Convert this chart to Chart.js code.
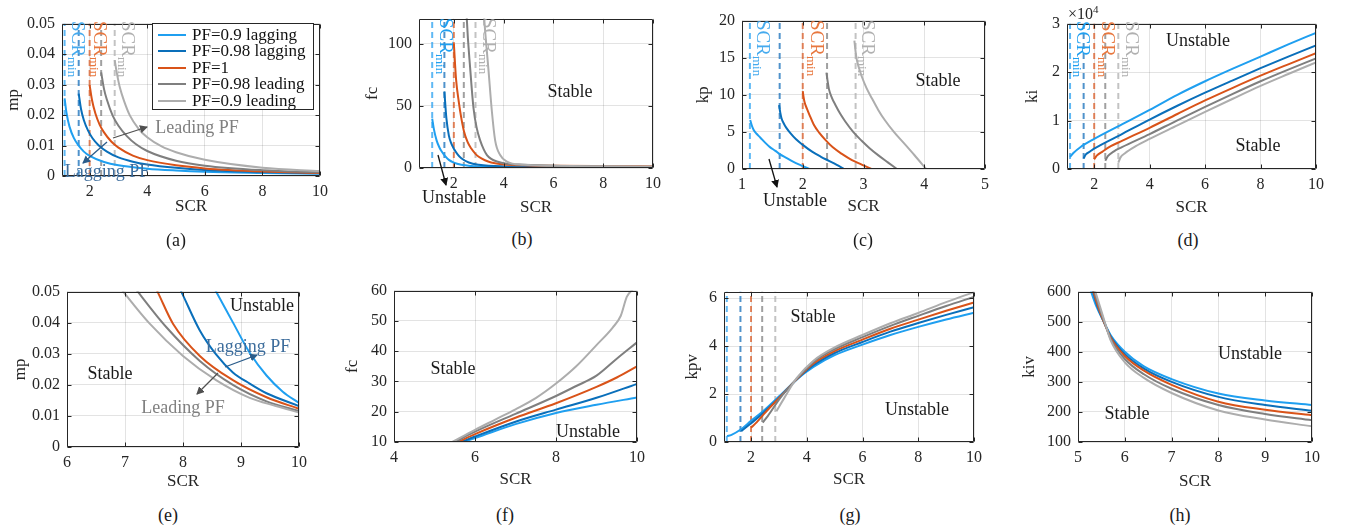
<!DOCTYPE html>
<html>
<head>
<meta charset="utf-8">
<title>SCR stability boundaries</title>
<script src="https://cdn.jsdelivr.net/npm/chart.js@4.4.1/dist/chart.umd.min.js"></script>
<style>
  body { margin: 0; background: #fff; }
  #fig { position: relative; width: 1347px; height: 531px; overflow: hidden; font-family: "Liberation Serif", "Times New Roman", serif; color: #1a1a1a; }
  .pane { position: absolute; }
  .txt { position: absolute; white-space: nowrap; transform: translate(-50%, -50%); font-size: 18px; line-height: 1; }
  .scr { position: absolute; white-space: nowrap; transform: rotate(90deg); transform-origin: 0 0; font-size: 19px; line-height: 19px; }
  .scr sub { font-size: 13px; vertical-align: -4px; }
  #legend { position: absolute; left: 152px; top: 23px; width: 160px; height: 85px; border: 1px solid #262626; background: #fff; }
  #legend .row { position: absolute; left: 0; height: 16px; width: 160px; }
  #legend .smp { position: absolute; left: 5px; top: 7px; width: 28px; height: 2px; }
  #legend .lt { position: absolute; left: 39px; top: -1px; font-size: 17px; line-height: 17px; white-space: nowrap; color: #111; }
  #arrows { position: absolute; left: 0; top: 0; }
</style>
</head>
<body>
<div id="fig">
  <div id="charts"></div>

  <!-- SCR_min labels -->
  <div class="scr" style="left:88px;top:21px;color:#45aaee">SCR<sub>min</sub></div>
  <div class="scr" style="left:110px;top:21px;color:#e8773e">SCR<sub>min</sub></div>
  <div class="scr" style="left:138px;top:21px;color:#b0b0b0">SCR<sub>min</sub></div>

  <div class="scr" style="left:456px;top:18px;color:#1f9ff0">SCR<sub>min</sub></div>
  <div class="scr" style="left:499px;top:18px;color:#b0b0b0">SCR<sub>min</sub></div>

  <div class="scr" style="left:773px;top:20px;color:#45aaee">SCR<sub>min</sub></div>
  <div class="scr" style="left:827px;top:20px;color:#e8773e">SCR<sub>min</sub></div>
  <div class="scr" style="left:878px;top:20px;color:#b0b0b0">SCR<sub>min</sub></div>

  <div class="scr" style="left:1093px;top:21px;color:#1f9ff0">SCR<sub>min</sub></div>
  <div class="scr" style="left:1118px;top:21px;color:#e8773e">SCR<sub>min</sub></div>
  <div class="scr" style="left:1142px;top:21px;color:#b0b0b0">SCR<sub>min</sub></div>

  <div style="position:absolute;left:1068px;top:1px;font-size:16px;line-height:16px;color:#262626">&times;10<sup style="font-size:11px">4</sup></div>

  <!-- legend of (a) -->
  <div id="legend"></div>

  <!-- region labels -->
  <div class="txt" style="left:197px;top:127px;color:#808080">Leading PF</div>
  <div class="txt" style="left:107px;top:171px;color:#3d6d9c">Lagging PF</div>

  <div class="txt" style="left:570px;top:91px">Stable</div>
  <div class="txt" style="left:454px;top:197px">Unstable</div>

  <div class="txt" style="left:938px;top:80px">Stable</div>
  <div class="txt" style="left:795px;top:200px">Unstable</div>

  <div class="txt" style="left:1198px;top:40px">Unstable</div>
  <div class="txt" style="left:1258px;top:145px">Stable</div>

  <div class="txt" style="left:262px;top:305px">Unstable</div>
  <div class="txt" style="left:110px;top:373px">Stable</div>
  <div class="txt" style="left:248px;top:346px;color:#3d6d9c">Lagging PF</div>
  <div class="txt" style="left:183px;top:407px;color:#808080">Leading PF</div>

  <div class="txt" style="left:453px;top:368px">Stable</div>
  <div class="txt" style="left:588px;top:431px">Unstable</div>

  <div class="txt" style="left:813px;top:316px">Stable</div>
  <div class="txt" style="left:917px;top:409px">Unstable</div>

  <div class="txt" style="left:1250px;top:353px">Unstable</div>
  <div class="txt" style="left:1127px;top:413px">Stable</div>

  <!-- captions -->
  <div class="txt" style="left:176px;top:240px">(a)</div>
  <div class="txt" style="left:522px;top:239px">(b)</div>
  <div class="txt" style="left:863px;top:240px">(c)</div>
  <div class="txt" style="left:1188px;top:240px">(d)</div>
  <div class="txt" style="left:168px;top:515px">(e)</div>
  <div class="txt" style="left:505px;top:515px">(f)</div>
  <div class="txt" style="left:850px;top:515px">(g)</div>
  <div class="txt" style="left:1180px;top:515px">(h)</div>

  <svg id="arrows" width="1347" height="531">
    <defs>
      <marker id="hk" markerWidth="8" markerHeight="8" refX="7" refY="4" orient="auto" markerUnits="userSpaceOnUse"><path d="M0,0 L8,4 L0,8 z" fill="#111"/></marker>
      <marker id="hg" markerWidth="8" markerHeight="8" refX="7" refY="4" orient="auto" markerUnits="userSpaceOnUse"><path d="M0,0 L8,4 L0,8 z" fill="#505050"/></marker>
      <marker id="hb" markerWidth="8" markerHeight="8" refX="7" refY="4" orient="auto" markerUnits="userSpaceOnUse"><path d="M0,0 L8,4 L0,8 z" fill="#2b5c8a"/></marker>
    </defs>
    <line x1="113" y1="138" x2="147" y2="127" stroke="#505050" stroke-width="1.3" marker-end="url(#hg)"/>
    <line x1="107" y1="142" x2="83" y2="163" stroke="#2b5c8a" stroke-width="1.3" marker-end="url(#hb)"/>
    <line x1="438" y1="155" x2="446" y2="185" stroke="#111" stroke-width="1.3" marker-end="url(#hk)"/>
    <line x1="769" y1="159" x2="777" y2="187" stroke="#111" stroke-width="1.3" marker-end="url(#hk)"/>
    <line x1="225" y1="367" x2="257" y2="355" stroke="#2b5c8a" stroke-width="1.3" marker-end="url(#hb)"/>
    <line x1="218" y1="373" x2="197" y2="394" stroke="#505050" stroke-width="1.3" marker-end="url(#hg)"/>
  </svg>
</div>

<script>
// series names and the SCR_min of each power factor
const pfLabels = ['PF=0.9 lagging', 'PF=0.98 lagging', 'PF=1', 'PF=0.98 leading', 'PF=0.9 leading'];
const scrMin = [1.13, 1.62, 2.0, 2.4, 2.87];

// (a) mp vs SCR
const aSCR = [
  [1.13, 1.2, 1.3, 1.45, 1.6, 1.8, 2.0, 2.5, 3, 4, 5, 6, 8, 10],
  [1.62, 1.7, 1.8, 1.95, 2.1, 2.3, 2.6, 3, 3.5, 4, 5, 6, 8, 10],
  [2.0, 2.08, 2.2, 2.35, 2.5, 2.75, 3, 3.5, 4, 5, 6, 8, 10],
  [2.4, 2.5, 2.6, 2.8, 3.0, 3.3, 3.6, 4, 5, 6, 8, 10],
  [2.87, 2.95, 3.05, 3.2, 3.4, 3.7, 4, 4.5, 5, 6, 8, 10]
];
const aMP = [
  [0.0255, 0.0205, 0.0162, 0.0125, 0.0102, 0.008, 0.0066, 0.0046, 0.0035, 0.0024, 0.0018, 0.0014, 0.001, 0.0007],
  [0.027, 0.022, 0.0183, 0.0148, 0.0124, 0.0102, 0.008, 0.0061, 0.0047, 0.0038, 0.0027, 0.002, 0.0013, 0.0009],
  [0.0298, 0.025, 0.0205, 0.0168, 0.0143, 0.0113, 0.0093, 0.0067, 0.0052, 0.0035, 0.0025, 0.0015, 0.001],
  [0.034, 0.0285, 0.025, 0.0198, 0.0165, 0.013, 0.0105, 0.0082, 0.005, 0.0034, 0.0019, 0.0012],
  [0.038, 0.0335, 0.029, 0.0245, 0.0198, 0.0155, 0.0127, 0.0097, 0.0078, 0.0053, 0.0027, 0.0016]
];
const aXTicks = [2, 4, 6, 8, 10];
const aYTicks = [0, 0.01, 0.02, 0.03, 0.04, 0.05];

// (b) fc vs SCR
const bSCR = [
  [1.13, 1.2, 1.31, 1.42, 1.52, 1.65, 1.8, 2.0, 2.3, 2.7, 3.2, 4, 6, 10],
  [1.62, 1.7, 1.8, 1.9, 2.0, 2.15, 2.3, 2.6, 3.0, 4, 6, 10],
  [2.0, 2.09, 2.2, 2.3, 2.4, 2.55, 2.7, 2.85, 3.0, 3.25, 3.5, 4, 5, 6, 8, 10],
  [2.4, 2.52, 2.66, 2.79, 2.92, 3.06, 3.2, 3.33, 3.5, 3.73, 4.13, 4.8, 6, 8, 10],
  [2.87, 3.1, 3.22, 3.39, 3.53, 3.66, 3.86, 4.13, 4.8, 6, 8, 10]
];
const bFC = [
  [39.7, 31, 22, 16.5, 13, 9.5, 6.5, 4.3, 2.6, 1.6, 1.0, 0.7, 0.45, 0.3],
  [61.5, 40, 26, 19.5, 15.5, 11, 7.8, 4.4, 2.6, 1.3, 0.9, 0.6],
  [100, 71, 53, 40, 30, 21, 15.6, 11.8, 9, 6.2, 4.4, 2.9, 2.1, 1.8, 1.5, 1.3],
  [190, 120, 79, 48, 32, 22, 15, 10.4, 7.3, 5.2, 3.4, 2.6, 1.8, 1.3, 1.0],
  [300, 160, 120, 79, 45, 22, 10.4, 5.2, 2.6, 1.8, 1.4, 1.1]
];
const bXTicks = [2, 4, 6, 8, 10];
const bYTicks = [0, 50, 100];

// (c) kp vs SCR
const cSCR = [
  [1.135, 1.16, 1.19, 1.24, 1.3, 1.38, 1.46, 1.55, 1.62, 1.73, 1.84, 1.97, 2.11],
  [1.61, 1.63, 1.65, 1.69, 1.73, 1.8, 1.89, 2.0, 2.16, 2.3, 2.43, 2.56, 2.68],
  [2.0, 2.015, 2.03, 2.07, 2.11, 2.18, 2.27, 2.38, 2.49, 2.65, 2.81, 2.97, 3.13],
  [2.39, 2.41, 2.43, 2.48, 2.54, 2.62, 2.7, 2.83, 2.97, 3.1, 3.24, 3.4, 3.55],
  [2.85, 2.87, 2.89, 2.93, 2.97, 3.05, 3.14, 3.24, 3.35, 3.5, 3.68, 3.84, 4.03]
];
const cKP = [
  [6.6, 5.9, 5.3, 4.75, 4.25, 3.55, 2.95, 2.45, 2.0, 1.5, 1.0, 0.5, 0],
  [8.6, 7.6, 6.85, 6.1, 5.55, 4.8, 4.0, 3.25, 2.3, 1.65, 1.1, 0.55, 0],
  [10.5, 9.6, 9.0, 8.1, 7.3, 6.0, 4.9, 3.85, 2.95, 2.0, 1.2, 0.6, 0],
  [13, 11.8, 10.8, 9.6, 8.6, 7.4, 6.4, 5.0, 3.8, 2.8, 1.87, 0.9, 0],
  [17.3, 15.8, 14.7, 13.5, 12.5, 10.9, 9.5, 8.0, 6.6, 5.0, 3.35, 1.85, 0]
];
const cXTicks = [1, 2, 3, 4, 5];
const cYTicks = [0, 5, 10, 15, 20];

// (d) ki vs SCR
const dSCR = [
  [1.13, 1.25, 1.5, 2, 3, 4, 5, 6, 7, 8, 9, 10],
  [1.62, 1.7, 1.85, 2, 3, 4, 5, 6, 7, 8, 9, 10],
  [2.0, 2.1, 2.3, 2.6, 3, 4, 5, 6, 7, 8, 9, 10],
  [2.4, 2.5, 2.7, 3, 4, 5, 6, 7, 8, 9, 10],
  [2.87, 2.95, 3.1, 3.5, 4, 5, 6, 7, 8, 9, 10]
];
const dKI = [
  [2500, 3300, 4500, 6200, 9200, 12200, 15300, 18100, 20700, 23200, 25700, 28100],
  [2200, 3000, 3600, 4200, 7200, 10200, 13050, 15750, 18300, 20800, 23200, 25500],
  [2000, 2800, 3600, 4700, 5800, 8500, 11350, 14150, 16750, 19250, 21600, 23900],
  [1700, 2700, 3600, 4500, 7200, 10050, 12800, 15500, 18100, 20500, 22800],
  [1300, 2400, 3200, 4700, 6200, 9000, 11800, 14500, 17150, 19600, 22000]
];
const dXTicks = [2, 4, 6, 8, 10];
const dYTicks = [0, 10000, 20000, 30000];

// (e) mp vs SCR, high SCR
const eSCR = [
  [8.48, 8.57, 8.86, 9.15, 9.44, 9.72, 10],
  [7.89, 7.97, 8.29, 8.57, 8.86, 9.15, 9.44, 10],
  [7.48, 7.56, 7.83, 8.29, 8.86, 9.44, 10],
  [7.1, 7.22, 7.71, 8.29, 8.86, 9.44, 10],
  [6.85, 6.97, 7.43, 8.0, 8.57, 9.15, 9.6, 10]
];
const eMP = [
  [0.053, 0.05, 0.0401, 0.0303, 0.023, 0.0178, 0.0142],
  [0.053, 0.05, 0.0375, 0.0298, 0.024, 0.0204, 0.0173, 0.0132],
  [0.053, 0.05, 0.0396, 0.0293, 0.0215, 0.016, 0.0123],
  [0.053, 0.05, 0.0386, 0.0277, 0.02, 0.0147, 0.0116],
  [0.053, 0.05, 0.0396, 0.0293, 0.0215, 0.0158, 0.0132, 0.0111]
];
const eXTicks = [6, 7, 8, 9, 10];
const eYTicks = [0, 0.01, 0.02, 0.03, 0.04, 0.05];

// (f) fc vs SCR, high SCR
const fSCR = [
  [5.7, 6, 7, 8, 9, 10],
  [5.66, 6, 7, 8, 9, 10],
  [5.58, 6, 7, 8, 9, 9.5, 10],
  [5.5, 6, 7, 8, 8.5, 9, 9.5, 10],
  [5.44, 6, 6.5, 7, 7.5, 8, 8.5, 9, 9.4, 9.6, 9.75, 9.9]
];
const fFC = [
  [10, 11.3, 15.9, 19.6, 22.3, 24.7],
  [10, 11.8, 16.7, 20.7, 24.6, 29.2],
  [10, 12.6, 18, 22.8, 28.2, 31.3, 35],
  [10, 13.4, 19.3, 25.2, 28.5, 31.9, 37.5, 42.9],
  [10, 14.0, 17.4, 20.8, 24.5, 29.3, 35, 42, 47.8, 51.7, 58, 60.5]
];
const fXTicks = [4, 6, 8, 10];
const fYTicks = [10, 20, 30, 40, 50, 60];

// (g) kpv vs SCR
const gSCR = [
  [1.14, 1.3, 1.63, 2, 2.45, 3.05, 3.65, 4.24, 5, 6, 7, 8, 9, 10],
  [1.65, 2, 2.45, 3.05, 3.65, 4.24, 5, 6, 7, 8, 9, 10],
  [2.0, 2.2, 2.45, 3.05, 3.65, 4.24, 5, 6, 7, 8, 9, 10],
  [2.42, 2.6, 3.05, 3.65, 4.24, 5, 6, 7, 8, 9, 10],
  [2.91, 3.2, 3.65, 4.24, 5, 6, 7, 8, 9, 10]
];
const gKPV = [
  [0.24, 0.3, 0.52, 0.88, 1.3, 1.95, 2.62, 3.13, 3.62, 4.06, 4.46, 4.8, 5.11, 5.39],
  [0.45, 0.78, 1.22, 1.9, 2.62, 3.2, 3.71, 4.17, 4.6, 4.96, 5.3, 5.62],
  [0.6, 0.82, 1.15, 1.89, 2.63, 3.27, 3.79, 4.27, 4.72, 5.1, 5.47, 5.82],
  [0.81, 1.08, 1.84, 2.65, 3.34, 3.87, 4.37, 4.84, 5.26, 5.67, 6.05],
  [1.28, 1.85, 2.68, 3.39, 3.94, 4.46, 4.95, 5.38, 5.83, 6.25]
];
const gXTicks = [2, 4, 6, 8, 10];
const gYTicks = [0, 2, 4, 6];

// (h) kiv vs SCR
const hSCR = [
  [5.2, 5.28, 5.4, 5.55, 5.7, 6, 6.4, 7, 8, 9, 10],
  [5.25, 5.32, 5.42, 5.55, 5.7, 6, 6.4, 7, 8, 9, 10],
  [5.25, 5.33, 5.43, 5.55, 5.7, 6, 6.4, 7, 8, 9, 10],
  [5.27, 5.35, 5.45, 5.56, 5.7, 6, 6.4, 7, 8, 9, 10],
  [5.29, 5.37, 5.47, 5.57, 5.7, 6, 6.4, 7, 8, 9, 10]
];
const hKIV = [
  [640, 600, 548, 500, 455, 400, 352, 309, 261, 238, 223],
  [640, 600, 548, 500, 450, 392, 345, 300, 250, 223, 204],
  [640, 600, 550, 500, 447, 386, 338, 290, 234, 207, 189],
  [640, 600, 550, 500, 442, 376, 326, 277, 223, 193, 172],
  [640, 600, 550, 500, 437, 365, 314, 263, 205, 175, 152]
];
const hXTicks = [5, 6, 7, 8, 9, 10];
const hYTicks = [100, 200, 300, 400, 500, 600];

const lineColors = ['#1f9ff0', '#0a6fba', '#d95319', '#7f7f7f', '#adadad'];
const dashColors = ['rgba(40,160,240,0.75)', 'rgba(20,110,185,0.75)', 'rgba(217,83,25,0.7)', 'rgba(120,120,120,0.7)', 'rgba(175,175,175,0.75)'];

Chart.defaults.font.family = "'Liberation Serif', 'Times New Roman', serif";

// box round the plot with inward tick marks, like matlab
const framePlugin = {
  id: 'frame',
  afterDatasetsDraw(chart) {
    const { ctx, chartArea: a, scales } = chart;
    const l = Math.round(a.left) + 0.5, r = Math.round(a.right) - 0.5;
    const t = Math.round(a.top) + 0.5, b = Math.round(a.bottom) - 0.5;
    ctx.save();
    ctx.strokeStyle = '#262626';
    ctx.lineWidth = 1;
    ctx.beginPath();
    scales.x.ticks.forEach(tk => {
      const px = Math.round(scales.x.getPixelForValue(tk.value)) + 0.5;
      ctx.moveTo(px, b); ctx.lineTo(px, b - 4);
      ctx.moveTo(px, t); ctx.lineTo(px, t + 4);
    });
    scales.y.ticks.forEach(tk => {
      const py = Math.round(scales.y.getPixelForValue(tk.value)) + 0.5;
      ctx.moveTo(l, py); ctx.lineTo(l + 4, py);
      ctx.moveTo(r, py); ctx.lineTo(r - 4, py);
    });
    ctx.rect(l, t, r - l, b - t);
    ctx.stroke();
    ctx.restore();
  }
};

function makePanel(p) {
  const padL = 70, padT = 12, padR = 16, hX = 50;
  const [L, T, R, B] = p.rect;
  const W = padL + (R - L) + padR, H = padT + (B - T) + hX;
  const box = document.createElement('div');
  box.className = 'pane';
  box.style.left = (L - padL) + 'px';
  box.style.top = (T - padT) + 'px';
  const cv = document.createElement('canvas');
  cv.width = W;
  cv.height = H;
  box.appendChild(cv);
  document.getElementById('charts').appendChild(box);

  const datasets = [];
  p.xs.forEach((xs, i) => {
    datasets.push({
      label: pfLabels[i],
      data: xs.map((x, j) => ({ x: x, y: p.ys[i][j] })),
      borderColor: lineColors[i],
      borderWidth: 2,
      pointRadius: 0,
      cubicInterpolationMode: 'monotone',
      order: 4 - i
    });
  });
  if (p.dashed) {
    scrMin.forEach((s, i) => {
      datasets.push({
        label: 'SCRmin ' + pfLabels[i],
        data: [{ x: s, y: p.yMin }, { x: s, y: p.yMax }],
        borderColor: dashColors[i],
        borderWidth: 2,
        borderDash: [6, 4],
        pointRadius: 0,
        order: 10
      });
    });
  }

  const tickFont = { size: 16 };
  const titleFont = { size: 17, lineHeight: 1.2 };
  const gridOpts = { color: 'rgba(0,0,0,0.11)', drawTicks: false };

  new Chart(cv, {
    type: 'line',
    data: { datasets: datasets },
    options: {
      responsive: false,
      animation: false,
      devicePixelRatio: 1,
      layout: { autoPadding: false, padding: { left: 0, top: padT, right: padR, bottom: 0 } },
      plugins: { legend: { display: false }, tooltip: { enabled: false } },
      scales: {
        x: {
          type: 'linear',
          min: p.xMin,
          max: p.xMax,
          afterBuildTicks: s => { s.ticks = p.xTicks.map(v => ({ value: v })); },
          afterFit: s => { s.height = hX; },
          grid: gridOpts,
          border: { display: false },
          ticks: { font: tickFont, color: '#262626', padding: 6, maxRotation: 0, autoSkip: false },
          title: { display: true, text: 'SCR', font: titleFont, color: '#262626',
                   padding: { top: 0, bottom: B + hX - 10.2 - p.xTitleY } }
        },
        y: {
          type: 'linear',
          min: p.yMin,
          max: p.yMax,
          afterBuildTicks: s => { s.ticks = p.yTicks.map(v => ({ value: v })); },
          afterFit: s => { s.width = padL; },
          grid: gridOpts,
          border: { display: false },
          ticks: { font: tickFont, color: '#262626', padding: 7, autoSkip: false,
                   callback: v => p.yFmt ? p.yFmt(v) : String(v) },
          title: { display: true, text: p.yTitle, font: titleFont, color: '#262626',
                   padding: { top: p.yTitleX - (L - padL) - 10.2, bottom: 0 } }
        }
      }
    },
    plugins: [framePlugin]
  });
}

makePanel({ rect: [62, 19, 320, 176], xMin: 1.04, xMax: 10, xTicks: aXTicks, yMin: 0, yMax: 0.05, yTicks: aYTicks,
            yTitle: 'mp', yTitleX: 14, xTitleY: 207, xs: aSCR, ys: aMP, dashed: true });
makePanel({ rect: [419, 14, 653, 168], xMin: 0.6, xMax: 10, xTicks: bXTicks, yMin: 0, yMax: 120, yTicks: bYTicks,
            yTitle: 'fc', yTitleX: 373, xTitleY: 208, xs: bSCR, ys: bFC, dashed: true });
makePanel({ rect: [742, 16, 985, 169], xMin: 1, xMax: 5, xTicks: cXTicks, yMin: 0, yMax: 20, yTicks: cYTicks,
            yTitle: 'kp', yTitleX: 704, xTitleY: 207, xs: cSCR, ys: cKP, dashed: true });
makePanel({ rect: [1067, 19, 1316, 169], xMin: 1.02, xMax: 10, xTicks: dXTicks, yMin: 0, yMax: 30000, yTicks: dYTicks,
            yTitle: 'ki', yTitleX: 1033, xTitleY: 208, xs: dSCR, ys: dKI, dashed: true, yFmt: v => String(v / 10000) });
makePanel({ rect: [67, 287, 299, 447], xMin: 6, xMax: 10, xTicks: eXTicks, yMin: 0, yMax: 0.05, yTicks: eYTicks,
            yTitle: 'mp', yTitleX: 21, xTitleY: 482, xs: eSCR, ys: eMP });
makePanel({ rect: [394, 286, 637, 442], xMin: 4, xMax: 10, xTicks: fXTicks, yMin: 10, yMax: 60, yTicks: fYTicks,
            yTitle: 'fc', yTitleX: 353, xTitleY: 480, xs: fSCR, ys: fFC });
makePanel({ rect: [724, 287, 974, 442], xMin: 1.03, xMax: 10, xTicks: gXTicks, yMin: 0, yMax: 6.27, yTicks: gYTicks,
            yTitle: 'kpv', yTitleX: 693, xTitleY: 480, xs: gSCR, ys: gKPV, dashed: true });
makePanel({ rect: [1078, 287, 1312, 442], xMin: 5, xMax: 10, xTicks: hXTicks, yMin: 100, yMax: 600, yTicks: hYTicks,
            yTitle: 'kiv', yTitleX: 1030, xTitleY: 482, xs: hSCR, ys: hKIV });

// legend of panel (a)
const legend = document.getElementById('legend');
pfLabels.forEach((name, i) => {
  const row = document.createElement('div');
  row.className = 'row';
  row.style.top = (3 + i * 16.4) + 'px';
  row.innerHTML = '<div class="smp" style="background:' + lineColors[i] + '"></div><div class="lt">' + name + '</div>';
  legend.appendChild(row);
});
</script>
</body>
</html>
